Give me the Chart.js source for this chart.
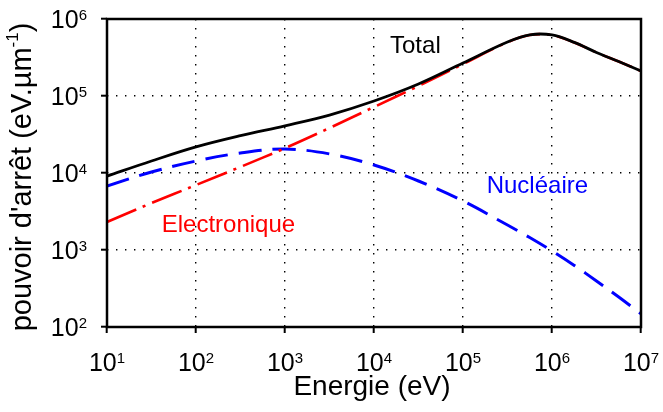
<!DOCTYPE html>
<html><head><meta charset="utf-8">
<script src="https://cdn.jsdelivr.net/npm/chart.js@4/dist/chart.umd.min.js"></script>
<style>html,body{margin:0;padding:0;background:#fff}canvas{display:block}</style>
</head><body>
<canvas id="c" width="663" height="412"></canvas>
<script>
// ---- data ----
const energies     = [10, 31.6, 100, 316, 1000, 3160, 1e4, 3.16e4, 1e5, 3.16e5, 5.62e5, 1e6, 1.78e6, 3.16e6, 5.62e6, 1e7];
const total        = [9100, 14300, 21800, 30500, 41000, 56500, 86000, 143000, 268000, 502000, 622000, 620000, 497000, 368000, 280000, 211000];
const electronique = [2310, 4070, 6980, 12000, 21000, 38400, 72000, 135000, 260000, 499000, 620000, 619000, 496000, 368000, 280000, 211000];
const nucleaire    = [6780, 10300, 14300, 18200, 20500, 17700, 12700, 7870, 4330, 2110, 1450, 971, 630, 396, 245, 148];

const xTicks = [1e1, 1e2, 1e3, 1e4, 1e5, 1e6, 1e7];
const xTickExp = ['1','2','3','4','5','6','7'];
const yTicks = [1e2, 1e3, 1e4, 1e5, 1e6];
const yTickExp = ['2','3','4','5','6'];
const xTitle = 'Energie (eV)';
const yTitleMain = "pouvoir d'arrêt (eV.µm";
const yTitleSup = '-1';
const yTitleEnd = ')';
const seriesNames = ['Total', 'Electronique', 'Nucléaire'];

const FONT = "'Liberation Sans', Arial, sans-serif";

function pts(ys){ return energies.map((e,i)=>({x:e, y:ys[i]})); }

const overlay = {
  id: 'overlay',
  afterDraw(chart) {
    const {ctx, chartArea: a, scales: {x, y}} = chart;
    ctx.save();
    // frame
    ctx.strokeStyle = '#000';
    ctx.lineWidth = 2.5;
    ctx.setLineDash([]);
    ctx.strokeRect(a.left, a.top, a.right - a.left, a.bottom - a.top);

    ctx.fillStyle = '#000';
    ctx.textBaseline = 'alphabetic';
    ctx.textAlign = 'left';
    const baseF = '25px ' + FONT, expF = '15px ' + FONT;
    // x tick labels
    xTicks.forEach((v, i) => {
      const px = x.getPixelForValue(v);
      ctx.font = baseF; const w1 = ctx.measureText('10').width;
      ctx.font = expF;  const w2 = ctx.measureText(xTickExp[i]).width;
      const s = px - (w1 + w2) / 2;
      ctx.font = baseF; ctx.fillText('10', s, a.bottom + 44);
      ctx.font = expF;  ctx.fillText(xTickExp[i], s + w1, a.bottom + 36);
    });
    // y tick labels
    yTicks.forEach((v, i) => {
      const py = y.getPixelForValue(v);
      ctx.font = baseF; const w1 = ctx.measureText('10').width;
      ctx.font = expF;  const w2 = ctx.measureText(yTickExp[i]).width;
      const s = a.left - 20 - w1 - w2;
      ctx.font = baseF; ctx.fillText('10', s, py + 9);
      ctx.font = expF;  ctx.fillText(yTickExp[i], s + w1, py + 1);
    });
    // x title
    ctx.font = '28px ' + FONT;
    ctx.textAlign = 'center';
    ctx.fillText(xTitle, (a.left + a.right) / 2 - 2, a.bottom + 68);
    // y title (rotated)
    ctx.textAlign = 'left';
    const tf = '29px ' + FONT, sf = '17px ' + FONT;
    ctx.font = tf; const m1 = ctx.measureText(yTitleMain).width, m3 = ctx.measureText(yTitleEnd).width;
    ctx.font = sf; const m2 = ctx.measureText(yTitleSup).width;
    const tw = m1 + m2 + m3;
    ctx.translate(31, (a.top + a.bottom) / 2 + 4);
    ctx.rotate(-Math.PI / 2);
    let sx = -tw / 2;
    ctx.font = tf; ctx.fillText(yTitleMain, sx, 0); sx += m1;
    ctx.font = sf; ctx.fillText(yTitleSup, sx, -13); sx += m2;
    ctx.font = tf; ctx.fillText(yTitleEnd, sx, 0);
    ctx.restore();

    // series labels placed in data coordinates (log10 values)
    ctx.save();
    ctx.font = '24px ' + FONT;
    ctx.textAlign = 'left';
    ctx.textBaseline = 'alphabetic';
    const lab = [
      {t: seriesNames[0], c: '#000000', lx: 4.18,  ly: 5.558},
      {t: seriesNames[1], c: '#ff0000', lx: 1.615, ly: 3.238},
      {t: seriesNames[2], c: '#0000ff', lx: 5.266, ly: 3.736}
    ];
    lab.forEach(l => {
      ctx.fillStyle = l.c;
      ctx.fillText(l.t, x.getPixelForValue(Math.pow(10, l.lx)), y.getPixelForValue(Math.pow(10, l.ly)));
    });
    ctx.restore();
  }
};

const gridOpts = {
  color: '#000', lineWidth: 1.4,
  drawTicks: true, tickLength: 6, tickWidth: 2, tickColor: '#000', tickBorderDash: []
};
const borderOpts = {display: false, dash: [1.4, 7.6]};

new Chart(document.getElementById('c'), {
  type: 'line',
  data: {
    datasets: [
      {label: seriesNames[0], data: pts(total), borderColor: '#000', borderWidth: 2.8, order: 0},
      {label: seriesNames[1], data: pts(electronique), borderColor: '#ff0000', borderWidth: 2.6, borderDash: [32, 7, 3, 7], order: 1},
      {label: seriesNames[2], data: pts(nucleaire), borderColor: '#0000ff', borderWidth: 3, borderDash: [23, 11], order: 2}
    ]
  },
  options: {
    responsive: false,
    animation: false,
    devicePixelRatio: 1,
    layout: {autoPadding: false, padding: {left: 101, right: 22, top: 19, bottom: 79}},
    elements: {point: {radius: 0}, line: {tension: 0.35, fill: false, borderCapStyle: 'butt'}},
    plugins: {legend: {display: false}, tooltip: {enabled: false}},
    scales: {
      x: {
        type: 'logarithmic', min: 10, max: 1e7,
        afterBuildTicks: s => { s.ticks = xTicks.map(v => ({value: v})); },
        ticks: {display: false},
        grid: gridOpts, border: borderOpts
      },
      y: {
        type: 'logarithmic', min: 100, max: 1e6,
        afterBuildTicks: s => { s.ticks = yTicks.map(v => ({value: v})); },
        ticks: {display: false},
        grid: gridOpts, border: borderOpts
      }
    }
  },
  plugins: [overlay]
});
</script>
</body></html>
